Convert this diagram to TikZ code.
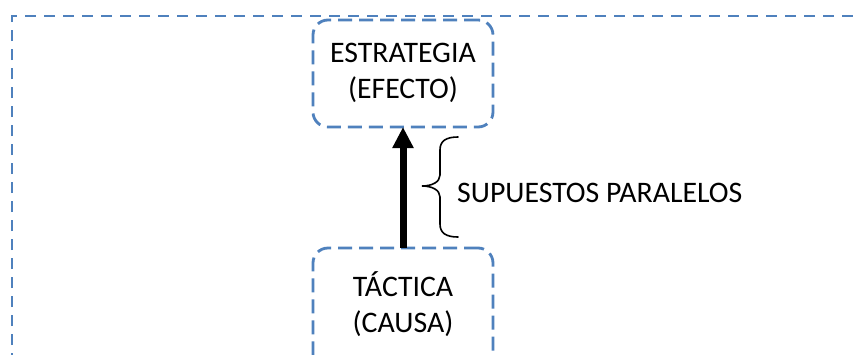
\documentclass[tikz,border=0pt]{standalone}
\usepackage{fontspec}
\setmainfont{Carlito}
\usetikzlibrary{arrows.meta}
\definecolor{dashblue}{HTML}{4F81BD}
\begin{document}
\begin{tikzpicture}[x=1pt,y=-1pt,
  box/.style={draw=dashblue, line width=2.8pt, dash pattern=on 14pt off 7pt, rounded corners=15pt, minimum width=180pt, inner sep=0pt, outer sep=0pt},
  lbl/.style={font=\fontsize{29.8}{36}\selectfont, align=center, inner sep=0pt},
  frame/.style={draw=dashblue, line width=2.4pt, dash pattern=on 11pt off 8pt},
  bracestyle/.style={line width=1.6pt, line cap=round}]
\useasboundingbox (0,0) rectangle (854,354);
\fill[white] (0,0) rectangle (854,354);
\clip (0,0) rectangle (854,354);
\coordinate (fb) at (12,364);
\coordinate (fc) at (12,16);
\coordinate (fr) at (864,16);
\draw[frame] (fb) -- (fc) -- (fr);
\node[box, minimum height=107pt] (efecto) at (403,73.5) {};
\node[lbl] (efectot) at (403,73) {ESTRATEGIA\\(EFECTO)};
\node[box, minimum height=130pt] (causa) at (403,313) {};
\node[lbl] (causat) at (403,304) {TÁCTICA\\(CAUSA)};
\draw[line width=7pt, -{Triangle[width=20pt,length=21pt]}] (causa.north) -- (efecto.south);
\draw[bracestyle] (458,137) .. controls (446,137) and (440,141) .. (440,150) -- (440,175)
  .. controls (440,182) and (432,186) .. (422,186)
  .. controls (432,186) and (440,190) .. (440,197) -- (440,224)
  .. controls (440,233) and (446,237) .. (458,237);
\node[lbl, anchor=west] (sup) at (457,193) {SUPUESTOS PARALELOS};
\end{tikzpicture}
\end{document}
